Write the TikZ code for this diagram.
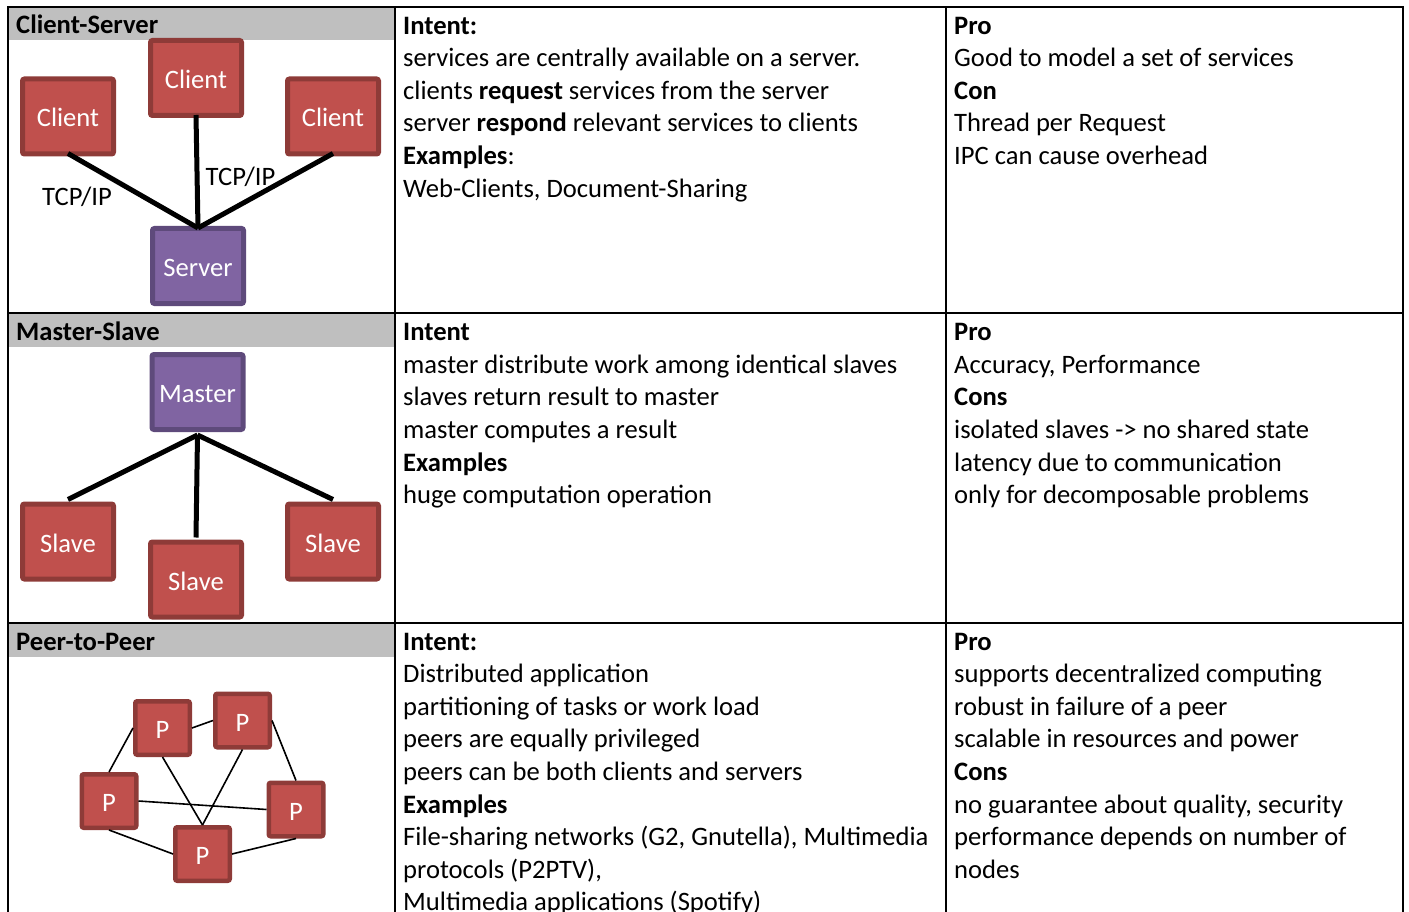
\documentclass[tikz,border=0pt]{standalone}
\usepackage{fontspec}
\setmainfont{Carlito}
\definecolor{hdrgray}{HTML}{BFBFBF}
\definecolor{redfill}{HTML}{C0504D}
\definecolor{redline}{HTML}{8E3B38}
\definecolor{purplefill}{HTML}{8064A2}
\definecolor{purpleline}{HTML}{5E4A7B}
\begin{document}
\begin{tikzpicture}[x=1pt,y=-1pt,
  bodyfont/.style={font=\fontsize{26.6}{32.6}\selectfont},
  txt/.style={bodyfont, anchor=base west, inner sep=0pt},
  rule/.style={line width=2pt},
  box/.style={bodyfont, line width=5pt, rounded corners=2pt, text=white,
    inner sep=0pt, text height=21pt, text depth=0pt,
    minimum width=91pt, minimum height=75pt},
  redbox/.style={box, draw=redline, fill=redfill},
  purplebox/.style={box, draw=purpleline, fill=purplefill},
  peer/.style={bodyfont, draw=redline, fill=redfill, line width=4.5pt,
    rounded corners=2pt, text=white, inner sep=0pt,
    text height=21pt, text depth=0pt,
    minimum width=54.5pt, minimum height=53.5pt},
  thick link/.style={line width=5pt, black},
  thin link/.style={line width=1.6pt, black}
]
\useasboundingbox (0,0) rectangle (1409,912);

% header bars of the first column
\fill[hdrgray] (9,8) rectangle (394,40);
\fill[hdrgray] (9,313.5) rectangle (394,347);
\fill[hdrgray] (9,623.5) rectangle (394,657);

% table rules
\draw[rule] (7,7) -- (1404,7);
\draw[rule] (8,7) -- (8,920);
\draw[rule] (395,7) -- (395,920);
\draw[rule] (946,7) -- (946,920);
\draw[rule] (1403,7) -- (1403,920);
\draw[rule] (8,312.5) -- (1403,312.5);
\draw[rule] (8,622.5) -- (1403,622.5);

% row titles
\node[txt, font=\fontsize{26.6}{32.6}\selectfont\bfseries] (t1) at (16,34) {Client-Server};
\node[txt, font=\fontsize{26.6}{32.6}\selectfont\bfseries] (t2) at (16,340.5) {Master-Slave};
\node[txt, font=\fontsize{26.6}{32.6}\selectfont\bfseries] (t3) at (16,650) {Peer-to-Peer};

% client-server diagram
\node[redbox] (cT) at (196,78) {Client};
\node[redbox] (cL) at (68,116.5) {Client};
\node[redbox] (cR) at (333,116.5) {Client};
\node[purplebox] (srv) at (198,266) {Server};
\draw[thick link] ([yshift=3pt]cL.south) -- ([yshift=-2pt]srv.north);
\draw[thick link] ([yshift=3pt]cT.south) -- ([yshift=-2pt]srv.north);
\draw[thick link] ([yshift=3pt]cR.south) -- ([yshift=-2pt]srv.north);
\node[txt] (tcpL) at (42,205.5) {TCP/IP};
\node[txt] (tcpR) at (205.5,186) {TCP/IP};

% master-slave diagram
\node[purplebox] (mst) at (197.5,392) {Master};
\node[redbox] (sL) at (68,541.5) {Slave};
\node[redbox] (sM) at (196,579.5) {Slave};
\node[redbox] (sR) at (333,541.5) {Slave};
\draw[thick link] ([yshift=-3pt]mst.south) -- ([yshift=2pt]sL.north);
\draw[thick link] ([yshift=-3pt]mst.south) -- ([yshift=2pt]sM.north);
\draw[thick link] ([yshift=-3pt]mst.south) -- ([yshift=2pt]sR.north);

% peer-to-peer diagram
\node[peer] (p1) at (162.5,728) {P};
\node[peer] (p2) at (242.5,720.5) {P};
\node[peer] (p3) at (109,801) {P};
\node[peer] (p4) at (296,809.5) {P};
\node[peer] (p5) at (202.5,854) {P};
\draw[thin link] (p1.west) -- (p3.north);
\draw[thin link] (p1.east) -- (p2.west);
\draw[thin link] (p1.south) -- (p5.north);
\draw[thin link] (p2.south) -- (p5.north);
\draw[thin link] (p2.east) -- (p4.north);
\draw[thin link] (p3.east) -- (p4.west);
\draw[thin link] (p3.south) -- (p5.west);
\draw[thin link] (p5.east) -- (p4.south);

% text cells
\foreach \t [count=\i from 0] in {{\textbf{Intent:}},
  {services are centrally available on a server.},
  {clients \textbf{request} services from the server},
  {server \textbf{respond} relevant services to clients},
  {\textbf{Examples}:},
  {Web-Clients, Document-Sharing}}
  \node[txt] (ai\i) at (403,34.2+32.6*\i) {\t};

\foreach \t [count=\i from 0] in {{\textbf{Pro}},
  {Good to model a set of services},
  {\textbf{Con}},
  {Thread per Request},
  {IPC can cause overhead}}
  \node[txt] (ap\i) at (954,34.2+32.6*\i) {\t};

\foreach \t [count=\i from 0] in {{\textbf{Intent}},
  {master distribute work among identical slaves},
  {slaves return result to master},
  {master computes a result},
  {\textbf{Examples}},
  {huge computation operation}}
  \node[txt] (bi\i) at (403,340.6+32.6*\i) {\t};

\foreach \t [count=\i from 0] in {{\textbf{Pro}},
  {Accuracy, Performance},
  {\textbf{Cons}},
  {isolated slaves -> no shared state},
  {latency due to communication},
  {only for decomposable problems}}
  \node[txt] (bp\i) at (954,340.6+32.6*\i) {\t};

\foreach \t [count=\i from 0] in {{\textbf{Intent:}},
  {Distributed application},
  {partitioning of tasks or work load},
  {peers are equally privileged},
  {peers can be both clients and servers},
  {\textbf{Examples}},
  {File-sharing networks (G2, Gnutella), Multimedia},
  {protocols (P2PTV),},
  {Multimedia applications (Spotify)}}
  \node[txt] (ci\i) at (403,650+32.6*\i) {\t};

\foreach \t [count=\i from 0] in {{\textbf{Pro}},
  {supports decentralized computing},
  {robust in failure of a peer},
  {scalable in resources and power},
  {\textbf{Cons}},
  {no guarantee about quality, security},
  {performance depends on number of},
  {nodes}}
  \node[txt] (cp\i) at (954,650+32.6*\i) {\t};
\end{tikzpicture}
\end{document}
